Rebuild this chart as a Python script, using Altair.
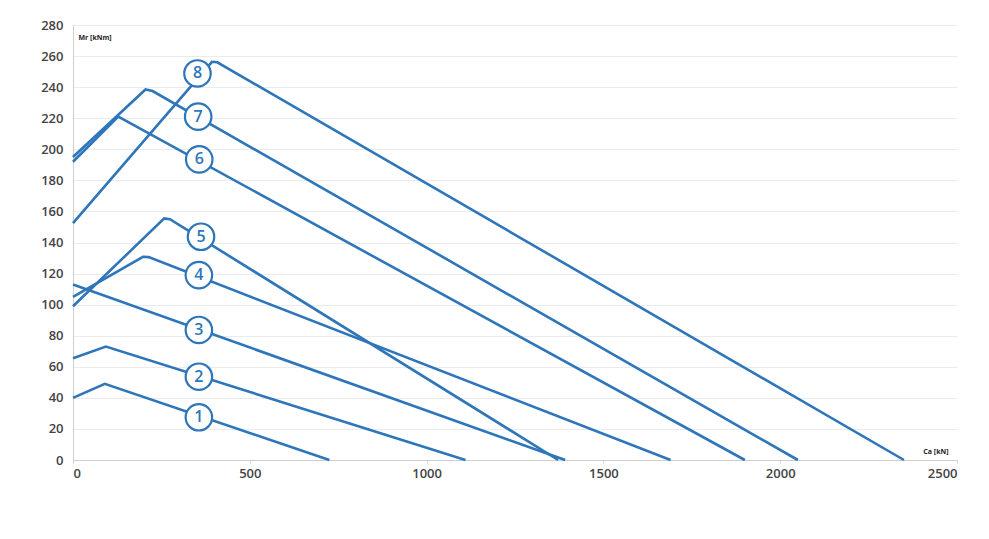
import altair as alt
import pandas as pd

# Curve vertices (Ca [kN], Mr [kNm]) for each numbered curve
curve_ids = [1, 1, 1,
             2, 2, 2,
             3, 3,
             4, 4, 4, 4,
             5, 5, 5, 5,
             6, 6, 6,
             7, 7, 7, 7,
             8, 8, 8, 8]
ca_values = [0, 90, 725,
             0, 93, 1110,
             0, 1392,
             0, 198, 214, 1690,
             0, 258, 274, 1372,
             0, 128, 1900,
             0, 205, 225, 2050,
             0, 393, 408, 2350]
mr_values = [40, 49, 0,
             65.5, 73, 0,
             113, 0,
             105, 130.8, 130.6, 0,
             99, 155.5, 155, 0,
             192, 221, 0,
             195, 238.5, 237.5, 0,
             152.5, 256.3, 256, 0]

# Circled label positions
label_text = ["1", "2", "3", "4", "5", "6", "7", "8"]
label_ca = [356, 356, 356, 356, 362, 357, 354, 352]
label_mr = [27.5, 53.6, 83.7, 119, 143.7, 193.5, 221, 248.8]

x_ticks = [0, 500, 1000, 1500, 2000, 2500]
y_ticks = list(range(0, 281, 20))

BLUE = "#2e76b9"
FONT = "Open Sans"

df = pd.DataFrame({
    "curve": curve_ids,
    "ca": ca_values,
    "mr": mr_values,
})
df["i"] = range(len(df))

lab = pd.DataFrame({"t": label_text, "ca": label_ca, "mr": label_mr})

xscale = alt.Scale(domain=[0, 2500], nice=False, zero=True)
yscale = alt.Scale(domain=[0, 280], nice=False)

xaxis = alt.Axis(values=x_ticks, tickCount=30, format="d", grid=False, domain=True,
                 domainColor="#cfcfcf",
                 ticks=True, tickSize=3, tickColor="#cfcfcf", labelPadding=4,
                 labelOverlap=False,
                 labelFont=FONT, labelFontSize=13, labelFontWeight=600, labelColor="#444444",
                 title="Ca [kN]", titleFont=FONT, titleFontSize=7, titleFontWeight="bold",
                 titleColor="#222222", titleAngle=0, titleAlign="right",
                 titleX=875, titleY=-7, titleBaseline="alphabetic")
yaxis = alt.Axis(values=y_ticks, tickCount=30, format="d", grid=True, gridColor="#ebebeb",
                 gridWidth=1, domain=True, domainColor="#cfcfcf", ticks=False, labelPadding=10,
                 labelOverlap=False,
                 labelFont=FONT, labelFontSize=13, labelFontWeight=600, labelColor="#444444",
                 title="Mr [kNm]", titleFont=FONT, titleFontSize=7, titleFontWeight="bold",
                 titleColor="#222222", titleAngle=0, titleAlign="left",
                 titleX=5, titleY=14, titleBaseline="alphabetic")

lines = alt.Chart(df).mark_line(color=BLUE, strokeWidth=2.6).encode(
    x=alt.X("ca:Q", scale=xscale, axis=xaxis),
    y=alt.Y("mr:Q", scale=yscale, axis=yaxis),
    detail="curve:N",
    order="i:Q",
)

circles = alt.Chart(lab).mark_point(shape="circle", filled=True, fill="white",
                                    stroke=BLUE, strokeWidth=2.2, size=700,
                                    opacity=1).encode(
    x=alt.X("ca:Q", scale=xscale, axis=xaxis),
    y=alt.Y("mr:Q", scale=yscale, axis=yaxis),
)

texts = alt.Chart(lab).mark_text(color=BLUE, font=FONT, fontSize=16,
                                 fontWeight=600, baseline="middle",
                                 align="center").encode(
    x=alt.X("ca:Q", scale=xscale, axis=xaxis),
    y=alt.Y("mr:Q", scale=yscale, axis=yaxis),
    text="t:N",
)

chart = alt.layer(lines, circles, texts).properties(
    width=884, height=435,
    background="white",
    autosize=alt.AutoSizeParams(type="none"),
    padding={"left": 65, "top": 17, "right": 20, "bottom": 40},
).configure_view(strokeWidth=0)

chart.save("out.html", embed_options={"renderer": "svg", "actions": False})
